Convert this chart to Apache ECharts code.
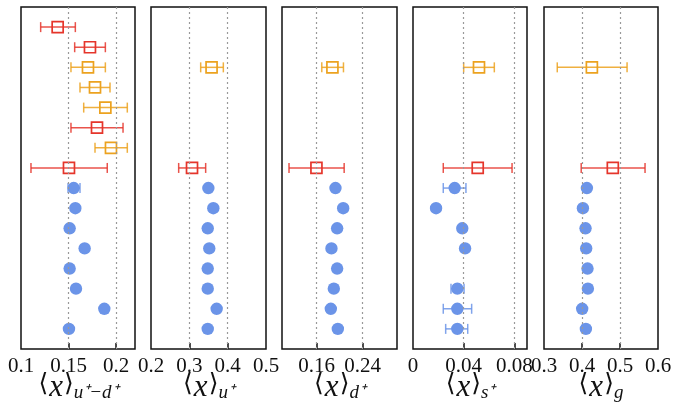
<!DOCTYPE html>
<html><head><meta charset="utf-8">
<script src="https://cdn.jsdelivr.net/npm/echarts@6/dist/echarts.min.js"></script>
<style>html,body{margin:0;padding:0;background:#fff}#c{width:674px;height:404px}</style>
</head><body><div id="c"></div>
<script>
// row kinds from top to bottom: 0 = red square, 1 = orange square, 2 = blue circle
const rowKind = [0,0,1,1,1,0,1,0,2,2,2,2,2,2,2,2];

// <x>_{u+ - d+}
const udVal = [0.1386,0.1726,0.1705,0.1779,0.1888,0.1800,0.1947,0.1505,0.1555,0.1572,0.1512,0.1670,0.1512,0.1579,0.1877,0.1505];
const udLo  = [0.1207,0.1565,0.1526,0.1621,0.1660,0.1526,0.1779,0.1105,0.1495,null,null,null,null,null,null,null];
const udHi  = [0.1572,0.1888,0.1888,0.1937,0.2119,0.2074,0.2119,0.1908,0.1621,null,null,null,null,null,null,null];

// <x>_{u+}
const uVal = [null,null,0.358,null,null,null,null,0.307,0.3496,0.3626,0.348,0.352,0.348,0.348,0.3713,0.348];
const uLo  = [null,null,0.3296,null,null,null,null,0.2722,null,null,null,null,null,null,null,null];
const uHi  = [null,null,0.3887,null,null,null,null,0.3426,null,null,null,null,null,null,null,null];

// <x>_{d+}
const dVal = [null,null,0.1877,null,null,null,null,0.1599,0.1930,0.2064,0.1959,0.1860,0.1959,0.1901,0.1849,0.1971];
const dLo  = [null,null,0.1692,null,null,null,null,0.1122,null,null,null,null,null,null,null,null];
const dHi  = [null,null,0.2069,null,null,null,null,0.2081,null,null,null,null,null,null,null,null];

// <x>_{s+}
const sVal = [null,null,0.0521,null,null,null,null,0.0511,0.0329,0.0182,0.0389,0.0411,null,0.0350,0.0350,0.0350];
const sLo  = [null,null,0.0400,null,null,null,null,0.0239,0.0239,null,null,null,null,0.0300,0.0239,0.0258];
const sHi  = [null,null,0.0642,null,null,null,null,0.0782,0.0418,null,null,null,null,0.0403,0.0463,0.0432];

// <x>_{g}
const gVal = [null,null,0.426,null,null,null,null,0.4811,0.4129,0.4024,0.4093,0.4110,0.4145,0.4155,0.4005,0.4102];
const gLo  = [null,null,0.3349,null,null,null,null,0.3979,null,null,null,null,null,null,null,null];
const gHi  = [null,null,0.5186,null,null,null,null,0.5659,null,null,null,null,null,null,null,null];

// axis ranges and tick labels
const udRange = [0.1, 0.22], udTicks = [0.1, 0.15, 0.2], udGrid = [0.15, 0.2];
const uRange = [0.2, 0.5],   uTicks = [0.2, 0.3, 0.4, 0.5], uGrid = [0.3, 0.4];
const dRange = [0.1, 0.3],   dTicks = [0.16, 0.24], dGrid = [0.16, 0.24];
const sRange = [0, 0.09],    sTicks = [0, 0.04, 0.08], sGrid = [0.04, 0.08];
const gRange = [0.3, 0.6],   gTicks = [0.3, 0.4, 0.5, 0.6], gGrid = [0.4, 0.5];

const subs = ['u⁺−d⁺', 'u⁺', 'd⁺', 's⁺', 'g'];

const panels = [
  {val: udVal, lo: udLo, hi: udHi, range: udRange, ticks: udTicks, grid: udGrid},
  {val: uVal, lo: uLo, hi: uHi, range: uRange, ticks: uTicks, grid: uGrid},
  {val: dVal, lo: dLo, hi: dHi, range: dRange, ticks: dTicks, grid: dGrid},
  {val: sVal, lo: sLo, hi: sHi, range: sRange, ticks: sTicks, grid: sGrid},
  {val: gVal, lo: gLo, hi: gHi, range: gRange, ticks: gTicks, grid: gGrid}
];

const COLORS = ['#e5352b', '#eca21f', '#6b94e8'];
const gridLeft = [21, 151, 282, 413, 544];
const gridWidth = [114, 115, 115, 114, 114];

function renderItem(params, api) {
  const v = api.value(0), r = api.value(1), lo = api.value(2), hi = api.value(3), k = api.value(4);
  const c = api.coord([v, r]);
  const color = COLORS[k];
  const children = [];
  if (isFinite(lo) && isFinite(hi) && lo !== hi) {
    const a = api.coord([lo, r]), b = api.coord([hi, r]);
    const st = {stroke: color, lineWidth: 1.5, opacity: 0.85};
    children.push({type: 'line', shape: {x1: a[0], y1: a[1], x2: b[0], y2: b[1]}, style: st});
    children.push({type: 'line', shape: {x1: a[0], y1: a[1] - 5, x2: a[0], y2: a[1] + 5}, style: st});
    children.push({type: 'line', shape: {x1: b[0], y1: b[1] - 5, x2: b[0], y2: b[1] + 5}, style: st});
  }
  if (k === 2) {
    children.push({type: 'circle', shape: {cx: c[0], cy: c[1], r: 6.2}, style: {fill: color}});
  } else {
    children.push({type: 'rect', shape: {x: c[0] - 5.5, y: c[1] - 5.5, width: 11, height: 11},
      style: {fill: null, stroke: color, lineWidth: 1.7}});
  }
  return {type: 'group', children};
}

const grids = [], xAxes = [], yAxes = [], series = [];
panels.forEach((p, i) => {
  grids.push({left: gridLeft[i], width: gridWidth[i], top: 7, height: 342, show: true,
    outerBoundsMode: 'none', containLabel: false,
    borderColor: '#111', borderWidth: 1.5, backgroundColor: 'transparent'});
  xAxes.push({
    type: 'value', gridIndex: i, min: p.range[0], max: p.range[1], position: 'bottom',
    axisLine: {show: false, onZero: false}, splitLine: {show: false},
    axisTick: {show: true, inside: true, length: 6, customValues: p.grid, lineStyle: {color: '#111', width: 1.5}},
    axisLabel: {customValues: p.ticks, margin: 7, color: '#111', fontFamily: 'Liberation Serif', fontSize: 21,
      formatter: v => String(+v.toFixed(3))},
    name: '{b|⟨}{x|x}{b|⟩}{s|' + subs[i] + '}',
    nameLocation: 'middle', nameGap: 23, nameMoveOverlap: false,
    nameTextStyle: {
      verticalAlign: 'top',
      rich: {
        b: {fontFamily: 'DejaVu Serif', fontSize: 25, lineHeight: 30, color: '#111', verticalAlign: 'top'},
        x: {fontFamily: 'Liberation Serif', fontStyle: 'italic', fontSize: 31, lineHeight: 30, color: '#111',
            padding: [0, 1, 0, 1], verticalAlign: 'top'},
        s: {fontFamily: 'Liberation Serif', fontStyle: 'italic', fontSize: 19, lineHeight: 18, color: '#111',
            verticalAlign: 'bottom', padding: [14, 0, 0, 0]}
      }
    }
  });
  yAxes.push({type: 'value', gridIndex: i, min: -1, max: 16, inverse: true, show: false});
  const data = [];
  p.val.forEach((v, r) => {
    if (v === null) return;
    data.push([v, r, p.lo[r] === null ? v : p.lo[r], p.hi[r] === null ? v : p.hi[r], rowKind[r]]);
  });
  series.push({
    type: 'custom', xAxisIndex: i, yAxisIndex: i, renderItem, data,
    encode: {x: 0, y: 1}, clip: false, z: 3,
    markLine: {silent: true, symbol: 'none', label: {show: false},
      lineStyle: {color: '#999', type: [2, 3], width: 1.2}, animation: false,
      data: p.grid.map(g => ({xAxis: g}))}
  });
});

const chart = echarts.init(document.getElementById('c'), null, {renderer: 'canvas'});
chart.setOption({animation: false, grid: grids, xAxis: xAxes, yAxis: yAxes, series});
</script></body></html>
